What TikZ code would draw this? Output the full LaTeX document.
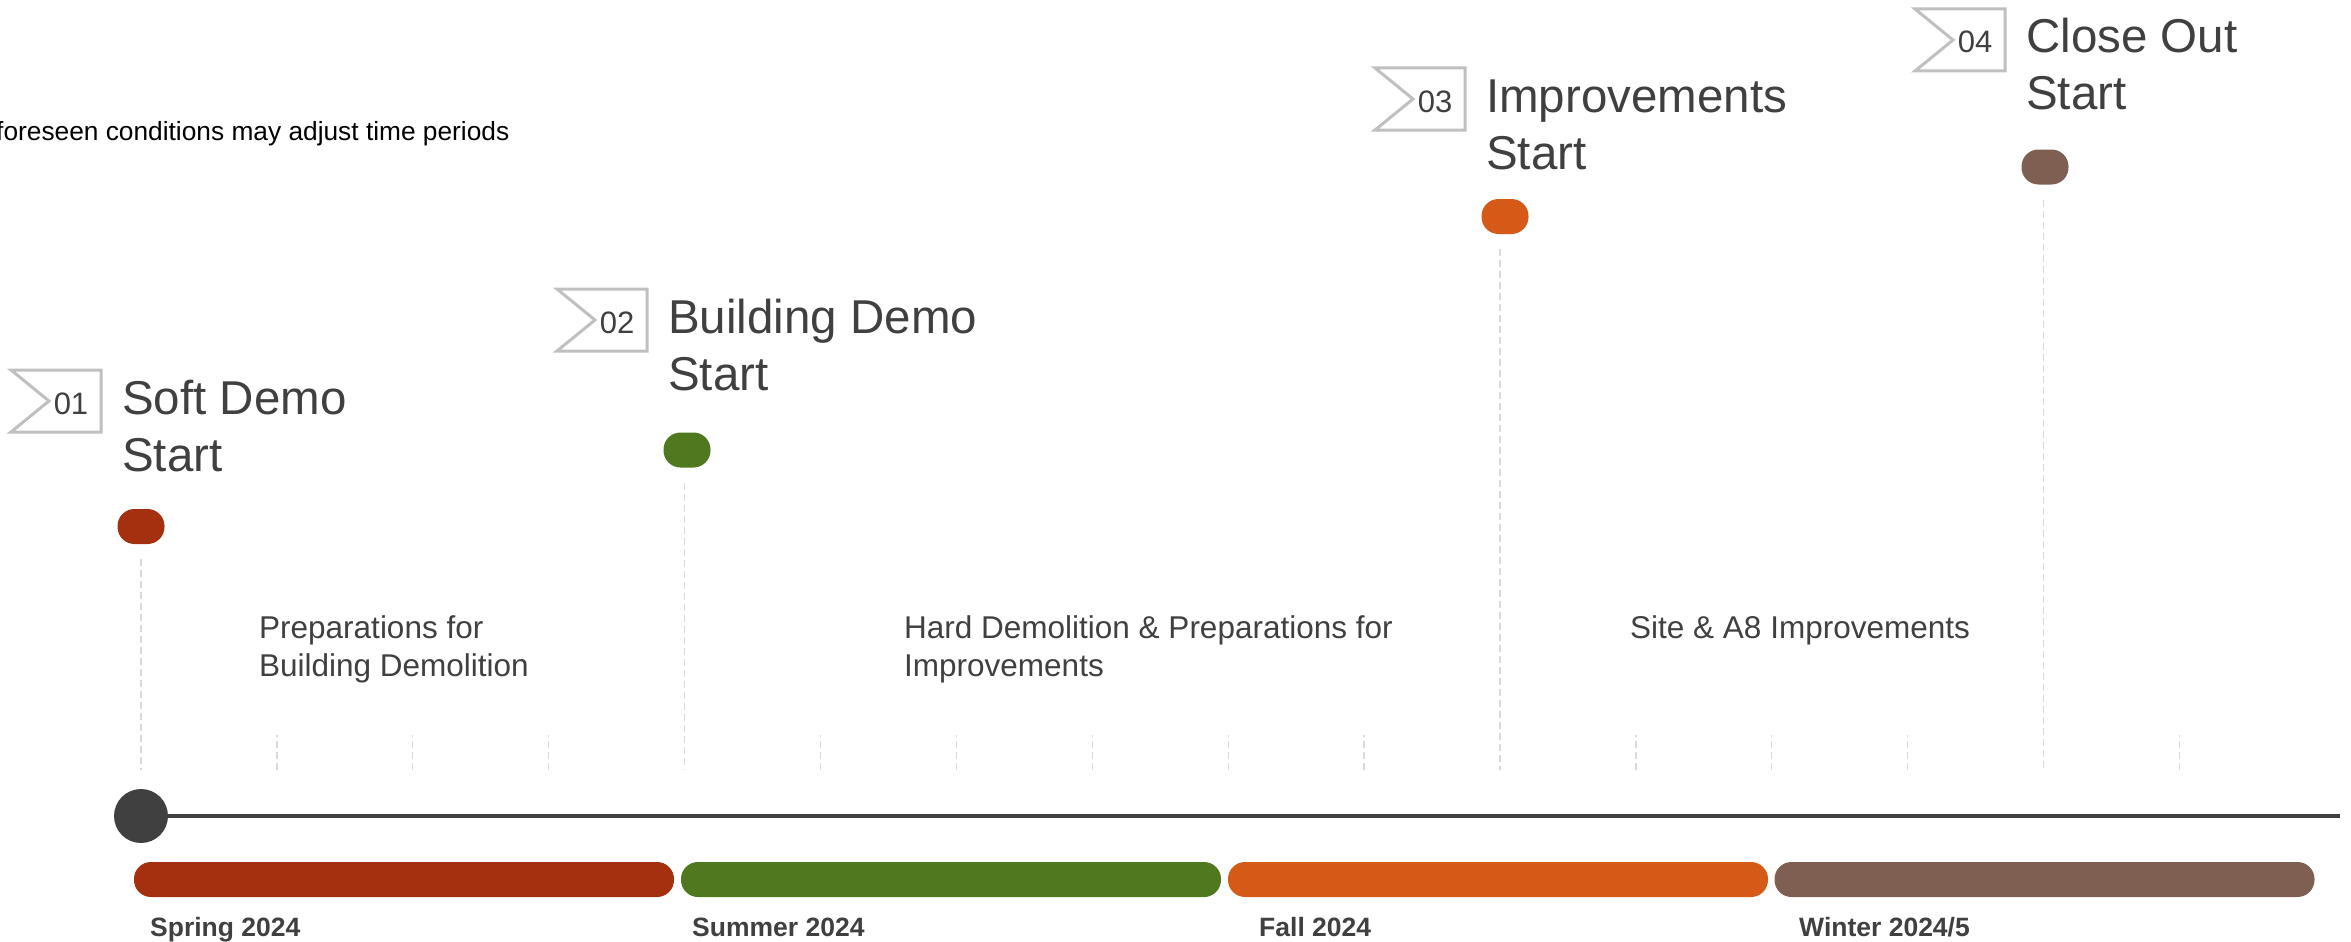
\documentclass[tikz,border=0pt]{standalone}
\usepackage{fontspec}
\setmainfont{Liberation Sans}
\usepackage{tikz}

\definecolor{ink}{HTML}{404040}
\definecolor{guidegray}{HTML}{D9D9D9}
\definecolor{flaggray}{HTML}{C0C0C0}
\definecolor{springred}{HTML}{A5300F}
\definecolor{summergreen}{HTML}{4F781F}
\definecolor{fallorange}{HTML}{D65A17}
\definecolor{winterbrown}{HTML}{7F5F52}

\tikzset{
    pill/.style={minimum width=47pt, minimum height=35pt, rounded corners=17pt, inner sep=0},
    bar/.style={minimum width=540pt, minimum height=35pt, rounded corners=17pt, inner sep=0},
    guide/.style={guidegray, line width=1.3pt, dash pattern=on 7pt off 4pt},
    flag/.style={flaggray, line width=3pt},
    num/.style={text=ink, inner sep=0, font=\fontsize{31}{31}\selectfont},
    title/.style={text=ink, inner sep=0, align=left, anchor=base west, font=\fontsize{47.5}{57}\selectfont},
    phase/.style={text=ink, inner sep=0, align=left, anchor=base west, font=\fontsize{31.5}{38}\selectfont},
    season/.style={text=ink, inner sep=0, anchor=base west, font=\fontsize{26.5}{30}\selectfont\bfseries}
}

% #1 name, #2 x, #3 flag top, #4 pill y, #5 colour, #6 number, #7 title
\newcommand{\milestone}[7]{
    \node[pill, fill=#5] (#1) at (#2,#4) {};
    \draw[flag] (#2-130,#3) -- (#2-40,#3) -- (#2-40,#3+62) -- (#2-130,#3+62) -- (#2-92,#3+31) -- cycle;
    \node[num, anchor=base] (#1num) at (#2-70,#3+44) {#6};
    \node[title] (#1title) at (#2-19,#3+101) {#7};
}

\begin{document}
\begin{tikzpicture}[x=1pt, y=-1pt]
    \useasboundingbox (0,0) rectangle (2351,942);

    \node[inner sep=0, anchor=base west, font=\fontsize{26.3}{30}\selectfont] (note) at (-4,140) {foreseen conditions may adjust time periods};

    \foreach \i in {0,...,15}
        \coordinate (t\i) at ({141+135.9*\i},770);
    \foreach \i in {1,2,3,5,6,7,8,9,11,12,13,15}
        \draw[guide] (t\i) -- ++(0,-35);

    \milestone{m1}{141}{370}{526.5}{springred}{01}{Soft Demo\\Start};
    \milestone{m2}{687}{289}{450}{summergreen}{02}{Building Demo\\Start};
    \milestone{m3}{1505}{68}{216.5}{fallorange}{03}{Improvements\\Start};
    \milestone{m4}{2045}{9}{167}{winterbrown}{04}{Close Out\\Start};

    \draw[guide] (t0 |- m1.south) ++(0,15) -- (t0);
    \draw[guide] (t4 |- m2.south) ++(0,15) -- (t4);
    \draw[guide] (t10 |- m3.south) ++(0,15) -- (t10);
    \draw[guide] (t14 |- m4.south) ++(0,15) -- (t14);

    \node[phase] (prep) at (259,676) {Preparations for\\Building Demolition};
    \node[phase] (hard) at (904,676) {Hard Demolition \& Preparations for\\Improvements};
    \node[phase] (site) at (1630,638) {Site \& A8 Improvements};

    \node[circle, fill=ink, minimum size=54pt, inner sep=0] (start) at (141,816) {};
    \coordinate (axisend) at (2340,816);
    \draw[ink, line width=3.5pt] (start) -- (axisend);

    \node[bar, fill=springred] (spring) at (404,879.5) {};
    \node[bar, fill=summergreen] (summer) at (951,879.5) {};
    \node[bar, fill=fallorange] (fall) at (1498,879.5) {};
    \node[bar, fill=winterbrown] (winter) at (2044.5,879.5) {};

    \node[season] (springlabel) at (150,936) {Spring 2024};
    \node[season] (summerlabel) at (692,936) {Summer 2024};
    \node[season] (falllabel) at (1259,936) {Fall 2024};
    \node[season] (winterlabel) at (1799,936) {Winter 2024/5};
\end{tikzpicture}
\end{document}
